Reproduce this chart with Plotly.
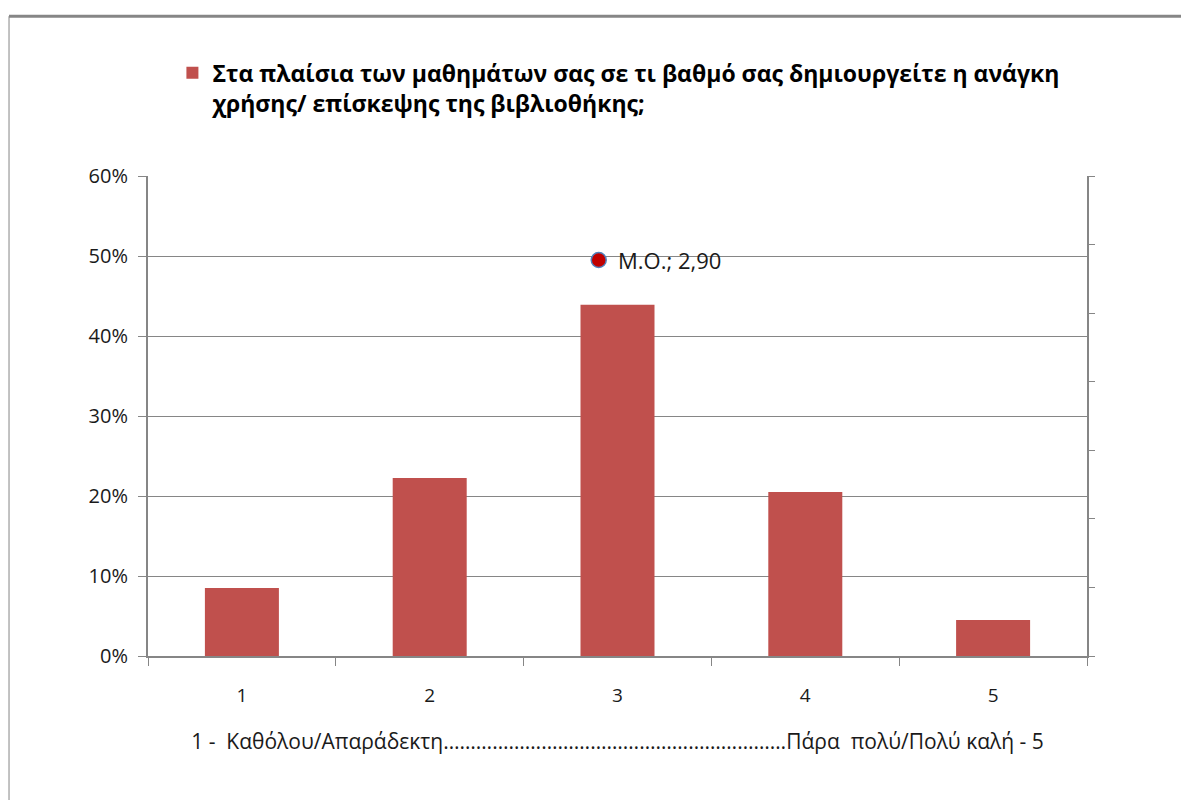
import plotly.graph_objects as go

categories = [1, 2, 3, 4, 5]
shares = [0.085, 0.2225, 0.439, 0.205, 0.045]
series_name = "Στα πλαίσια των μαθημάτων σας σε τι βαθμό σας δημιουργείτε η ανάγκη<br>χρήσης/ επίσκεψης της βιβλιοθήκης;"
mean_label = "M.O.; 2,90"
mean_x = [2.90]
mean_y = [0.495]
y_ticks = [0, 0.1, 0.2, 0.3, 0.4, 0.5, 0.6]
x_title = "1 -  Καθόλου/Απαράδεκτη" + "…" * 21 + "Πάρα  πολύ/Πολύ καλή - 5"

GRID = "#868686"
FONT = "Open Sans, sans-serif"
TXT = "#1a1a1a"

fig = go.Figure()
fig.add_trace(go.Bar(
    x=categories, y=shares, name=series_name,
    marker=dict(color="#C0504D", line=dict(width=0)),
    width=0.394, showlegend=True,
))
fig.add_trace(go.Scatter(
    x=mean_x, y=mean_y, mode="markers",
    marker=dict(size=15, color="#C00000", line=dict(color="#4F81BD", width=1.5)),
    showlegend=False, hoverinfo="skip",
))
# invisible trace for the secondary (right) axis
fig.add_trace(go.Scatter(x=[None], y=[None], yaxis="y2", showlegend=False, hoverinfo="skip"))
# overlay x axis only for boundary tick marks
fig.add_trace(go.Scatter(x=[None], y=[None], xaxis="x2", showlegend=False, hoverinfo="skip"))

fig.update_layout(
    width=1181, height=792,
    margin=dict(l=140, r=102, t=168, b=144),
    paper_bgcolor="white", plot_bgcolor="white",
    font=dict(family=FONT, color=TXT),
    xaxis=dict(
        range=[0.5, 5.5], tickvals=categories, ticktext=[str(c) for c in categories],
        showgrid=False, showline=True, linecolor=GRID, linewidth=2,
        ticks="", tickfont=dict(size=19, color=TXT), ticklabelstandoff=21,
        title=dict(text=x_title, font=dict(size=21, color=TXT), standoff=28),
        zeroline=False,
    ),
    xaxis2=dict(
        overlaying="x", side="bottom", range=[0.5, 5.5],
        tickvals=[0.5, 1.5, 2.5, 3.5, 4.5, 5.5], showticklabels=False,
        ticks="outside", ticklen=9, tickcolor=GRID, tickwidth=1,
        showgrid=False, showline=False, zeroline=False,
    ),
    yaxis=dict(
        range=[0, 0.6], tickvals=y_ticks, tickformat=".0%",
        showgrid=True, gridcolor=GRID, gridwidth=1,
        showline=True, linecolor=GRID, linewidth=2,
        ticks="outside", ticklen=8, tickcolor=GRID, ticklabelstandoff=6,
        tickfont=dict(size=20, color=TXT), zeroline=False,
    ),
    yaxis2=dict(
        overlaying="y", side="right", range=[0, 7], dtick=1,
        showticklabels=False, showgrid=False,
        showline=True, linecolor=GRID, linewidth=2,
        ticks="outside", ticklen=6, tickcolor=GRID, zeroline=False,
    ),
    legend=dict(
        x=0.026, y=1.26, xanchor="left", yanchor="top", valign="top",
        font=dict(size=23, color="#000000", family="Open Sans, sans-serif", weight="bold"),
        bgcolor="rgba(0,0,0,0)", itemsizing="constant", itemwidth=30,
    ),
    annotations=[dict(
        x=mean_x[0], y=mean_y[0], xref="x", yref="y", text=mean_label,
        showarrow=False, xanchor="left", yanchor="middle", xshift=17,
        font=dict(size=22, color=TXT, family=FONT),
    )],
    shapes=[
        dict(type="line", xref="paper", yref="paper",
             x0=-0.148, x1=1.12, y0=1.333, y1=1.333,
             line=dict(color=GRID, width=3)),
        dict(type="line", xref="paper", yref="paper",
             x0=-0.148, x1=-0.148, y0=1.333, y1=-0.3,
             line=dict(color=GRID, width=1)),
    ],
)

fig.write_html("out.html")
